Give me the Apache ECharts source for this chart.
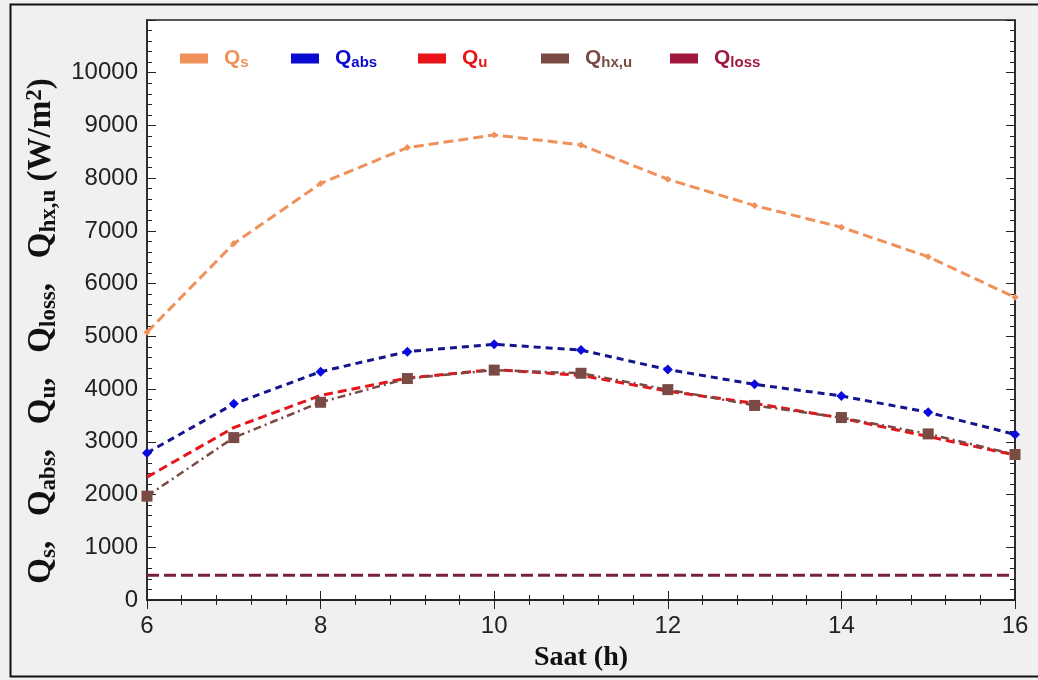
<!DOCTYPE html>
<html><head><meta charset="utf-8">
<script src="https://cdn.jsdelivr.net/npm/echarts@6/dist/echarts.min.js"></script>
<style>html,body{margin:0;padding:0;background:#f0f0f0}#c{width:1038px;height:680px}</style>
</head><body><div id="c"></div>
<script>
var hours = [6,7,8,9,10,11,12,13,14,15,16];
var Qs    = [5080,6760,7900,8580,8820,8630,7980,7480,7070,6510,5740];
var Qabs  = [2790,3720,4330,4710,4850,4740,4370,4090,3870,3560,3140];
var Qu    = [2330,3270,3880,4210,4370,4260,3960,3730,3450,3100,2750];
var Qhx   = [1970,3080,3750,4200,4360,4300,3990,3690,3460,3150,2760];
var Qloss = [470,470,470,470,470,470,470,470,470,470,470];
var xTicks = [6,8,10,12,14,16];
var yTicks = [0,1000,2000,3000,4000,5000,6000,7000,8000,9000,10000];

var colors = {s:'#f0915a', abs:'#0a0ad0', u:'#e8141a', hx:'#7a4a44', loss:'#a0193c'};
function pairs(v){ return hours.map(function(h,i){return [h,v[i]];}); }

function legendItem(name, left, col, sub){
  var rich = {
    q:{color:col, fontSize:21, fontWeight:'bold', fontFamily:'Liberation Sans, Arial', padding:[0,0,0,11]},
    b:{color:col, fontSize:15, fontWeight:'bold', fontFamily:'Liberation Sans, Arial', verticalAlign:'bottom', padding:[8,0,0,0]}
  };
  return {
    show:true, left:left, top:43, itemWidth:28, itemHeight:10, icon:'rect',
    data:[{name:name, itemStyle:{color:col}}],
    formatter:function(){ return '{q|Q}{b|'+sub+'}'; },
    textStyle:{rich:rich}
  };
}

var serif = 'Liberation Serif, Times New Roman';
var yRich = {
  q:{fontFamily:serif, fontWeight:'bold', fontSize:33, color:'#111'},
  s:{fontFamily:serif, fontWeight:'bold', fontSize:23, color:'#111', verticalAlign:'bottom', padding:[12,0,0,0]},
  p:{fontFamily:serif, fontWeight:'bold', fontSize:23, color:'#111', verticalAlign:'top', padding:[0,0,14,0]}
};
var yName = '{q|Q}{s|s}{q|,   Q}{s|abs}{q|,   Q}{s|u}{q|,   Q}{s|loss}{q|,   Q}{s|hx,u}{q| (W/m}{p|2}{q|)}';

var tickFont = 'Liberation Sans, Arial';
var chart = echarts.init(document.getElementById('c'));
chart.setOption({
  backgroundColor:'#f0f0f0',
  animation:false,
  graphic:[{type:'rect', left:8, top:2, shape:{width:1045, height:672}, style:{fill:'none', stroke:'#111', lineWidth:2}, z:100}],
  legend:[
    legendItem('Qs',175,colors.s,'s'),
    legendItem('Qabs',286,colors.abs,'abs'),
    legendItem('Qu',413,colors.u,'u'),
    legendItem('Qhx',536,colors.hx,'hx,u'),
    legendItem('Qloss',665,colors.loss,'loss')
  ],
  grid:{left:147, right:23, top:20, bottom:80, show:true, backgroundColor:'#fff', borderColor:'#222', borderWidth:1.5},
  xAxis:[{
    type:'value', min:6, max:16, interval:2,
    axisLine:{show:true, onZero:false, lineStyle:{color:'#222', width:1.5}},
    axisTick:{inside:true, length:9, lineStyle:{color:'#222'}},
    minorTick:{show:true, splitNumber:5, length:5, lineStyle:{color:'#222'}},
    splitLine:{show:false},
    axisLabel:{fontSize:24, color:'#222', fontFamily:tickFont, margin:14,
      formatter:function(v){ return xTicks.indexOf(v)>=0 ? String(v) : ''; }},
    name:'Saat (h)', nameLocation:'middle', nameGap:44,
    nameTextStyle:{fontFamily:serif, fontWeight:'bold', fontSize:28, color:'#111'}
  },{
    type:'value', min:6, max:16, interval:2, position:'top',
    axisLine:{show:true, lineStyle:{color:'#222', width:1.5}},
    axisTick:{inside:true, length:9, lineStyle:{color:'#222'}},
    minorTick:{show:true, splitNumber:5, length:5, lineStyle:{color:'#222'}},
    splitLine:{show:false}, axisLabel:{show:false}
  }],
  yAxis:[{
    type:'value', min:0, max:11000, interval:1000,
    axisLine:{show:true, lineStyle:{color:'#222', width:1.5}},
    axisTick:{inside:true, length:9, lineStyle:{color:'#222'}},
    minorTick:{show:true, splitNumber:5, length:5, lineStyle:{color:'#222'}},
    splitLine:{show:false},
    axisLabel:{fontSize:24, color:'#222', fontFamily:tickFont, margin:9,
      formatter:function(v){ return yTicks.indexOf(v)>=0 ? String(v) : ''; }},
    name:yName, nameLocation:'middle', nameGap:86, nameRotate:90,
    nameTextStyle:{rich:yRich, padding:[0,42,0,0]}
  },{
    type:'value', min:0, max:11000, interval:1000, position:'right',
    axisLine:{show:true, lineStyle:{color:'#222', width:1.5}},
    axisTick:{inside:true, length:9, lineStyle:{color:'#222'}},
    minorTick:{show:true, splitNumber:5, length:5, lineStyle:{color:'#222'}},
    splitLine:{show:false}, axisLabel:{show:false}
  }],
  series:[
    {name:'Qs', type:'line', data:pairs(Qs), symbol:'diamond', symbolSize:7,
     itemStyle:{color:colors.s}, lineStyle:{color:colors.s, width:3, type:[10,5]}},
    {name:'Qabs', type:'line', data:pairs(Qabs), symbol:'diamond', symbolSize:10,
     itemStyle:{color:'#0a0ae0'}, lineStyle:{color:'#14148c', width:3, type:[7,5]}},
    {name:'Qu', type:'line', data:pairs(Qu), symbol:'none',
     itemStyle:{color:colors.u}, lineStyle:{color:colors.u, width:3, type:[9,5]}},
    {name:'Qhx', type:'line', data:pairs(Qhx), symbol:'rect', symbolSize:11,
     itemStyle:{color:colors.hx}, lineStyle:{color:colors.hx, width:2.5, type:[8,4,2,4]}},
    {name:'Qloss', type:'line', data:pairs(Qloss), symbol:'none',
     itemStyle:{color:colors.loss}, lineStyle:{color:'#7a2040', width:3, type:[12,5]}}
  ]
});
</script></body></html>
